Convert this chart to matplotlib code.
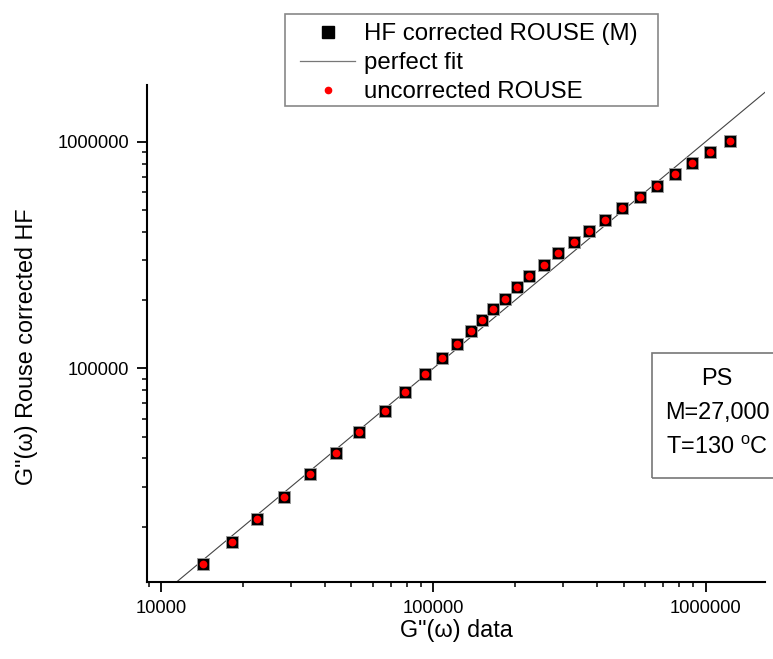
import numpy as np
import matplotlib
matplotlib.use("Agg")
import matplotlib.pyplot as plt
from matplotlib.ticker import LogLocator, FixedLocator, FixedFormatter, NullFormatter
from matplotlib.lines import Line2D
from matplotlib.patches import Rectangle

plt.rcParams['font.family'] = ['Liberation Sans', 'DejaVu Sans']
plt.rcParams['mathtext.fontset'] = 'custom'
plt.rcParams['mathtext.rm'] = 'Liberation Sans'

# G''(omega) measured vs. Rouse-corrected (HF)
g_data = [14320, 18230, 22520, 28220, 35260, 43920, 53210, 66480, 78520, 93460,
          107640, 122500, 137200, 151000, 166100, 183400, 203000, 225200, 255600,
          287700, 327700, 374100, 427100, 494500, 572800, 664700, 770000, 891700,
          1035400, 1229000]
g_hf = [13690, 17170, 21630, 27130, 34060, 42420, 52510, 64790, 78820, 94670,
        111400, 128000, 146100, 163400, 182100, 202900, 227900, 254700, 286600,
        321800, 359700, 403600, 452700, 508300, 570200, 639500, 718000, 805400,
        903400, 1010000]
g_uncorr = g_hf
fit_range = [11000, 1.8e6]

tick_vals = [1e4, 1e5, 1e6]
tick_labels = ["10000", "100000", "1000000"]

W, H = 773, 659
fig = plt.figure(figsize=(W / 100, H / 100), dpi=100)
ax = fig.add_axes([0.1902, 0.1168, 0.7995, 0.7542])

ax.plot(fit_range, fit_range, color="#444444", lw=0.8, zorder=2)
ax.plot(g_data, g_hf, ls="none", marker="s", ms=8.8, mfc="black",
        mec="#999999", mew=0.7, zorder=3)
ax.plot(g_data, g_uncorr, ls="none", marker="o", ms=5.6, mfc="red",
        mec="red", mew=0, zorder=4)

ax.set_xscale("log")
ax.set_yscale("log")
ax.set_xlim(8885, 1.652e6)
ax.set_ylim(11400, 1.778e6)

for axis in (ax.xaxis, ax.yaxis):
    axis.set_major_locator(FixedLocator(tick_vals))
    axis.set_major_formatter(FixedFormatter(tick_labels))
    axis.set_minor_locator(LogLocator(base=10, subs=np.arange(2, 10)))
    axis.set_minor_formatter(NullFormatter())

ax.tick_params(which="major", direction="out", length=7, width=1.3,
               labelsize=13.2, pad=6)
ax.tick_params(which="minor", direction="out", length=3.8, width=1.1)

for side in ("top", "right"):
    ax.spines[side].set_visible(False)
for side in ("left", "bottom"):
    ax.spines[side].set_linewidth(1.5)

fig.text(456 / W, 1 - 630 / H, "G\"(\u03c9) data", ha="center", va="center",
         fontsize=16.8)
fig.text(27 / W, 1 - 347 / H, "G\"(\u03c9) Rouse corrected HF", ha="center",
         va="center", rotation=90, fontsize=16.8)

# legend with a hand-drawn frame
handles = [
    Line2D([], [], ls="none", marker="s", ms=8, mfc="black", mec="black"),
    Line2D([], [], color="#777777", lw=0.9),
    Line2D([], [], ls="none", marker="o", ms=4.5, mfc="red", mec="red"),
]
labels = ["HF corrected ROUSE (M)", "perfect fit", "uncorrected ROUSE"]
leg = fig.legend(handles, labels, loc="upper left",
                 bbox_to_anchor=(300 / W, 1 - 23 / H), fontsize=17.3,
                 frameon=False, handlelength=2.3, handletextpad=0.35,
                 labelspacing=0.3, borderpad=0.0, borderaxespad=0)
fig.patches.append(Rectangle((285 / W, 1 - 106 / H), 373 / W, 92 / H,
                             transform=fig.transFigure, fill=False,
                             ec="#888888", lw=1.2))

fig.text(717 / W, 1 - 413 / H, "PS\nM=27,000\nT=130 $^{\\rm o}$C", ha="center",
         va="center", fontsize=16.9, linespacing=1.65)
fig.patches.append(Rectangle((652 / W, 1 - 478 / H), 140 / W, 125 / H,
                             transform=fig.transFigure, fill=False,
                             ec="#777777", lw=1.2))

fig.savefig("out.png", dpi=100)
